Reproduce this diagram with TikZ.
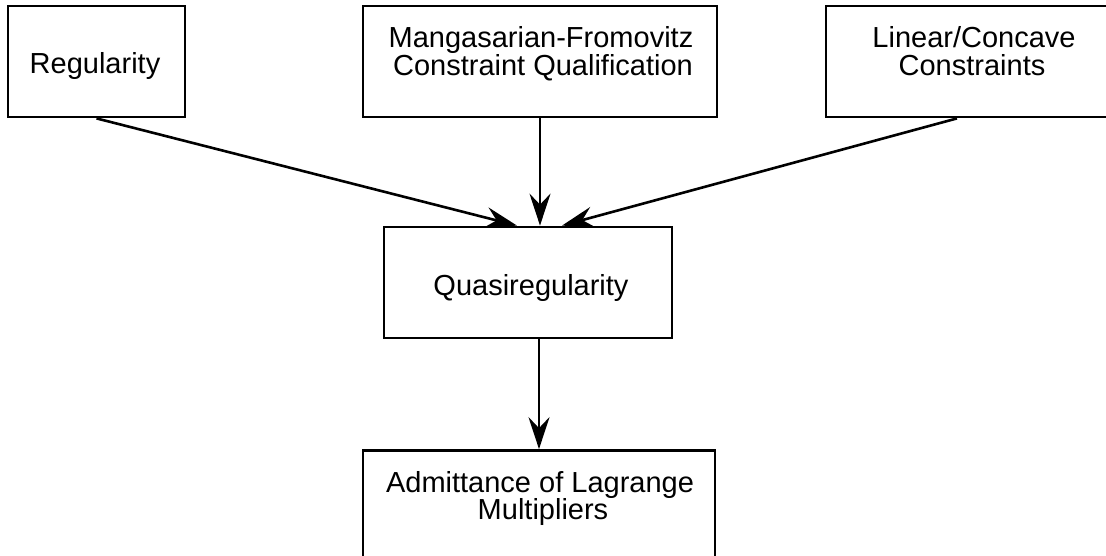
\documentclass[tikz,border=0pt]{standalone}
\usepackage{fontspec}
\setmainfont{Liberation Sans}
\usetikzlibrary{arrows.meta}
\begin{document}
\begin{tikzpicture}[x=1pt,y=-1pt,
  box/.style={draw,line width=2.8pt,minimum width=#1,minimum height=111pt,inner sep=0pt},
  lbl/.style={anchor=base,inner sep=0pt,font=\fontsize{29}{28}\selectfont},
  conn/.style={line width=2.6pt,-{Stealth[length=32pt,width=21pt,inset=11pt]}}]
\useasboundingbox (0,0) rectangle (1106,556);
\clip (0,0) rectangle (1106,556);
% boxes
\node[box=177pt] (reg) at (96.5,61.5) {};
\node[box=354pt] (mf) at (540,61.5) {};
\node[box=320pt] (lin) at (986,61.5) {};
\node[box=288pt] (quasi) at (528,282.5) {};
\node[box=352pt] (adm) at (539,506) {};
% labels
\node[lbl] (regt) at (95,74) {Regularity};
\node[lbl] (mft1) at (541,48) {Mangasarian-Fromovitz};
\node[lbl] (mft2) at (543,76) {Constraint Qualification};
\node[lbl] (lint1) at (974,48) {Linear/Concave};
\node[lbl] (lint2) at (972,76) {Constraints};
\node[lbl] (quasit) at (531,295) {Quasiregularity};
\node[lbl] (admt1) at (540,492) {Admittance of Lagrange};
\node[lbl] (admt2) at (543,519) {Multipliers};
% connectors
\draw[conn] (reg.south) -- ([xshift=-11pt]quasi.north);
\draw[conn] (mf.south) -- (quasi.north -| mf.south);
\draw[conn] ([xshift=-29pt]lin.south) -- ([xshift=34pt]quasi.north);
\draw[conn] (quasi.south -| adm.north) -- (adm.north);
\end{tikzpicture}
\end{document}
